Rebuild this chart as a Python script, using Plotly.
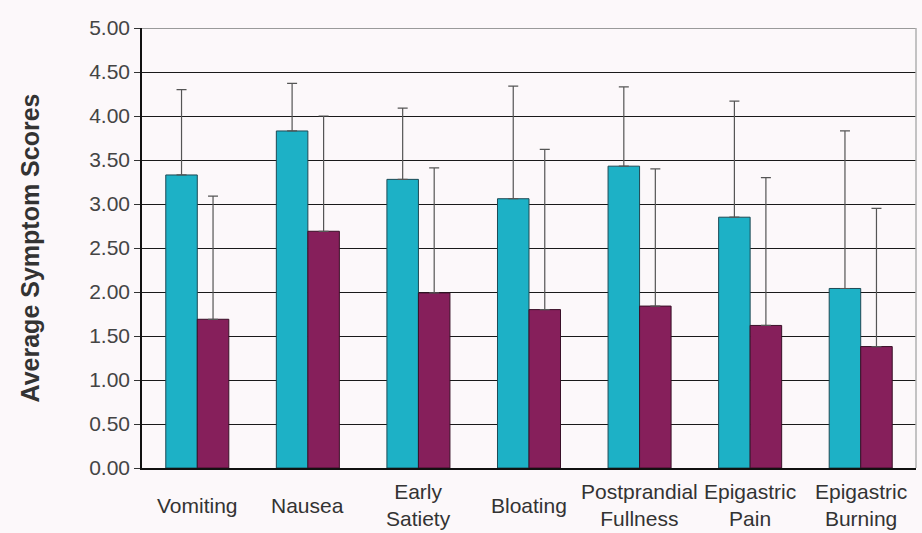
import plotly.graph_objects as go

# Symptom categories (tick labels, line breaks as printed)
categories = ["Vomiting", "Nausea", "Early Satiety", "Bloating",
              "Postprandial Fullness", "Epigastric Pain", "Epigastric Burning"]
tick_labels = ["Vomiting", "Nausea", "Early<br>Satiety", "Bloating",
               "Postprandial<br>Fullness", "Epigastric<br>Pain", "Epigastric<br>Burning"]

# Mean scores and standard deviations for the two groups
before_mean = [3.33, 3.83, 3.28, 3.06, 3.43, 2.85, 2.04]
before_sd = [0.97, 0.54, 0.81, 1.28, 0.90, 1.32, 1.79]
after_mean = [1.69, 2.69, 1.99, 1.80, 1.84, 1.62, 1.38]
after_sd = [1.40, 1.31, 1.42, 1.82, 1.56, 1.68, 1.57]

y_ticks = [0, 0.5, 1, 1.5, 2, 2.5, 3, 3.5, 4, 4.5, 5]

TEAL = "#1db1c6"
MAROON = "#861f5b"
BG = "#fcf8fa"
LABEL_FONT = "Liberation Sans, Arial, sans-serif"


def upper_err(sd):
    return dict(type="data", array=sd, arrayminus=[0] * len(sd), symmetric=False,
                color="#555555", thickness=1.2, width=5)


fig = go.Figure()
fig.add_trace(go.Bar(
    name="Before", x=categories, y=before_mean, error_y=upper_err(before_sd),
    marker=dict(color=TEAL, line=dict(color="#1e4a55", width=1)),
))
fig.add_trace(go.Bar(
    name="After", x=categories, y=after_mean, error_y=upper_err(after_sd),
    marker=dict(color=MAROON, line=dict(color="#3a1028", width=1)),
))

# Category labels, vertically centred under each group
for cat, lab in zip(categories, tick_labels):
    fig.add_annotation(
        x=cat, xref="x", y=-0.085, yref="paper", text=lab, showarrow=False,
        xanchor="center", yanchor="middle",
        font=dict(family=LABEL_FONT, size=21, color="#333333"),
    )

# Light frame along the top and right edges
fig.add_shape(type="line", xref="paper", yref="y", x0=0, x1=1, y0=5, y1=5,
              line=dict(color="#9a9a9a", width=2))
fig.add_shape(type="line", xref="paper", yref="paper", x0=1, x1=1, y0=0, y1=1,
              line=dict(color="#b0b0b0", width=1.5))

fig.update_layout(
    width=922, height=533,
    margin=dict(l=142, r=6, t=28, b=65),
    paper_bgcolor=BG, plot_bgcolor=BG,
    barmode="group", bargap=0.43, bargroupgap=0,
    showlegend=False,
    font=dict(family="Liberation Sans, Arial, sans-serif", color="#333333"),
)
fig.update_xaxes(
    showticklabels=False, showgrid=False, ticks="",
    showline=True, linecolor="#111111", linewidth=1.5,
    range=[-0.5, len(categories) - 0.5],
)
fig.update_yaxes(
    range=[0, 5], tickvals=y_ticks, tickformat=".2f",
    tickfont=dict(size=21, color="#444444"),
    ticks="outside", ticklen=6, tickcolor="#333333", tickwidth=1,
    showgrid=True, gridcolor="#1a1a1a", gridwidth=1.3,
    showline=True, linecolor="#111111", linewidth=1.5,
    zeroline=False,
    title=dict(text="<b>Average Symptom Scores</b>",
               font=dict(size=25, color="#333333"), standoff=42),
)

fig.write_html("out.html")
